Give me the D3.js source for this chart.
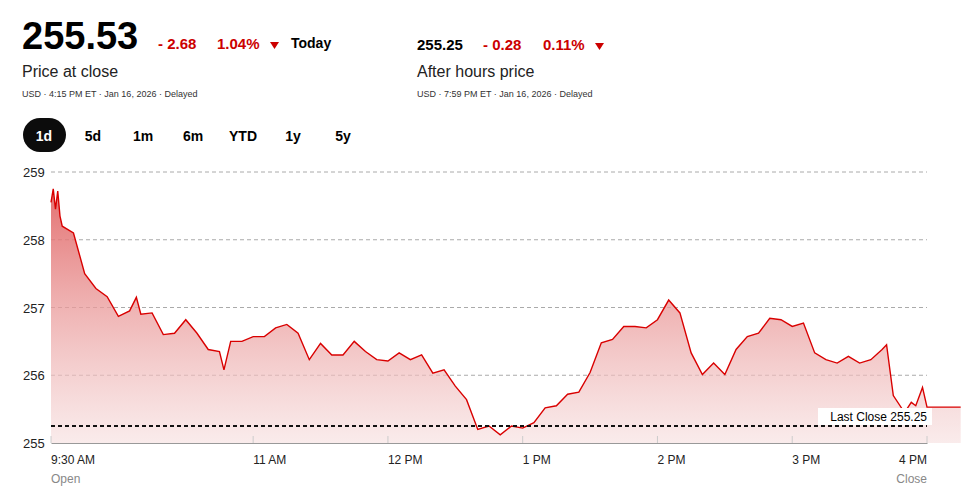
<!DOCTYPE html>
<html><head><meta charset="utf-8">
<script src="https://cdn.jsdelivr.net/npm/d3@7"></script>
<style>
body{margin:0;background:#fff;font-family:"Liberation Sans",Arial,sans-serif;}
svg text{font-family:"Liberation Sans",Arial,sans-serif;}
</style></head><body>
<svg id="c" width="971" height="499"></svg>
<script>
// minutes after 9:30 AM
const minutes = [0,1,2,3,4,5,10,15,20,25,30,35,38,40,45,50,55,60,65,70,75,77,80,85,90,95,100,105,110,115,120,125,130,135,140,145,150,155,160,165,170,175,180,185,190,195,200,205,210,215,220,225,230,235,240,245,250,255,260,265,270,275,280,285,290,295,300,305,310,315,320,325,330,335,340,345,350,355,360,365,370,372,375,380,383,385,388,390];
const prices  = [258.55,258.75,258.45,258.72,258.35,258.2,258.1,257.5,257.28,257.16,256.87,256.95,257.15,256.9,256.92,256.6,256.62,256.82,256.62,256.38,256.35,256.08,256.5,256.5,256.57,256.57,256.7,256.75,256.62,256.23,256.47,256.3,256.3,256.5,256.35,256.23,256.21,256.33,256.23,256.3,256.03,256.08,255.84,255.64,255.2,255.25,255.12,255.25,255.22,255.3,255.52,255.55,255.72,255.75,256.04,256.48,256.53,256.72,256.72,256.7,256.82,257.11,256.92,256.33,256.01,256.18,256.01,256.38,256.57,256.62,256.84,256.82,256.72,256.77,256.33,256.23,256.18,256.28,256.18,256.23,256.38,256.45,255.7,255.45,255.6,255.55,255.82,255.53];
const afterHoursEnd = {minute: 405, price: 255.53};
const yTicks = [255,256,257,258,259];
const xTickMinutes = [0,90,150,210,270,330,390];
const xTickLabels = ["9:30 AM","11 AM","12 PM","1 PM","2 PM","3 PM","4 PM"];
const lastClose = 255.25;

const svg = d3.select("#c");
const x = d3.scaleLinear().domain([0,390]).range([51,927]);
const y = d3.scaleLinear().domain([255,259]).range([443,172]);

const red="#cc0000";
svg.append("text").attr("x",22).attr("y",49).attr("font-size",38).attr("font-weight","bold").attr("fill","#000").text("255.53");
svg.append("text").attr("x",158).attr("y",49).attr("font-size",15).attr("font-weight","bold").attr("fill",red).text("- 2.68");
svg.append("text").attr("x",217).attr("y",49).attr("font-size",15).attr("font-weight","bold").attr("fill",red).text("1.04%");
svg.append("path").attr("d","M270,42 L279,42 L274.5,49 Z").attr("fill",red);
svg.append("text").attr("x",291).attr("y",48).attr("font-size",14).attr("font-weight","bold").attr("fill","#000").text("Today");
svg.append("text").attr("x",22).attr("y",77).attr("font-size",16).attr("fill","#222").text("Price at close");
svg.append("text").attr("x",22).attr("y",97).attr("font-size",9).attr("fill","#333").text("USD · 4:15 PM ET · Jan 16, 2026 · Delayed");
svg.append("text").attr("x",417).attr("y",50).attr("font-size",15).attr("font-weight","bold").attr("fill","#000").text("255.25");
svg.append("text").attr("x",483).attr("y",50).attr("font-size",15).attr("font-weight","bold").attr("fill",red).text("- 0.28");
svg.append("text").attr("x",543).attr("y",50).attr("font-size",15).attr("font-weight","bold").attr("fill",red).text("0.11%");
svg.append("path").attr("d","M595,43 L604,43 L599.5,50 Z").attr("fill",red);
svg.append("text").attr("x",417).attr("y",77).attr("font-size",16).attr("fill","#222").text("After hours price");
svg.append("text").attr("x",417).attr("y",97).attr("font-size",9).attr("fill","#333").text("USD · 7:59 PM ET · Jan 16, 2026 · Delayed");
svg.append("rect").attr("x",23).attr("y",118).attr("width",43).attr("height",34).attr("rx",17).attr("fill","#0c0c0c");
const btns=[["1d",44,"#fff"],["5d",93,"#000"],["1m",143,"#000"],["6m",193,"#000"],["YTD",243,"#000"],["1y",293,"#000"],["5y",343,"#000"]];
btns.forEach(b=>svg.append("text").attr("x",b[1]).attr("y",141).attr("text-anchor","middle").attr("font-size",14).attr("font-weight","bold").attr("fill",b[2]).text(b[0]));

yTicks.filter(t=>t>255).forEach(t=>{
  svg.append("line").attr("x1",51).attr("x2",927).attr("y1",y(t)).attr("y2",y(t)).attr("stroke","#aaa").attr("stroke-dasharray","4,3");
});
yTicks.forEach(t=>svg.append("text").attr("x",23).attr("y",y(t)+5).attr("font-size",13).attr("fill","#222").text(t));

const defs=svg.append("defs");
const g=defs.append("linearGradient").attr("id","gr").attr("x1",0).attr("x2",0).attr("y1",0).attr("y2",1);
g.append("stop").attr("offset","0%").attr("stop-color","#e06060").attr("stop-opacity",0.9);
g.append("stop").attr("offset","100%").attr("stop-color","#f6dede").attr("stop-opacity",0.6);

const pts = minutes.map((m,i)=>[m,prices[i]]);
const ptsAll = pts.concat([[afterHoursEnd.minute, afterHoursEnd.price]]);
svg.append("path").datum(ptsAll).attr("fill","url(#gr)")
  .attr("d",d3.area().x(d=>x(d[0])).y0(y(255)).y1(d=>y(d[1])));
svg.append("path").datum(ptsAll).attr("fill","none").attr("stroke","#d90000").attr("stroke-width",1.4)
  .attr("d",d3.line().x(d=>x(d[0])).y(d=>y(d[1])));

svg.append("line").attr("x1",51).attr("x2",927).attr("y1",y(lastClose)).attr("y2",y(lastClose)).attr("stroke","#111").attr("stroke-width",2).attr("stroke-dasharray","4,3");
svg.append("rect").attr("x",818).attr("y",408).attr("width",114).attr("height",17).attr("fill","#fff");
svg.append("text").attr("x",927).attr("y",421).attr("text-anchor","end").attr("font-size",12).attr("fill","#000").text("Last Close "+lastClose.toFixed(2));

const xa = svg.append("g").attr("transform","translate(0,443)")
  .call(d3.axisBottom(x).tickValues(xTickMinutes).tickSize(0).tickFormat(()=>""));
xa.select(".domain").attr("stroke","#999");
xTickMinutes.forEach((m,i)=>{
  svg.append("line").attr("x1",x(m)).attr("x2",x(m)).attr("y1",436).attr("y2",443).attr("stroke","#ccc");
  svg.append("text").attr("x",x(m)).attr("y",464).attr("text-anchor",i===6?"end":"start")
    .attr("font-size",12).attr("fill","#222").text(xTickLabels[i]);
});
svg.append("text").attr("x",51).attr("y",483).attr("font-size",12).attr("fill","#888").text("Open");
svg.append("text").attr("x",927).attr("y",483).attr("text-anchor","end").attr("font-size",12).attr("fill","#888").text("Close");
</script></body></html>
